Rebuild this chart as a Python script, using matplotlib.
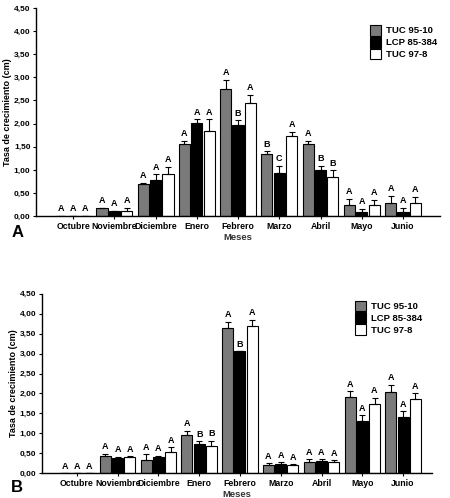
import matplotlib.pyplot as plt
import numpy as np

plt.rcParams['font.family'] = ['Liberation Sans', 'DejaVu Sans']

meses = ['Octubre', 'Noviembre', 'Diciembre', 'Enero', 'Febrero',
         'Marzo', 'Abril', 'Mayo', 'Junio']
variedades = ['TUC 95-10', 'LCP 85-384', 'TUC 97-8']

# Panel A
tuc9510_a = [0, 0.17, 0.70, 1.55, 2.74, 1.35, 1.55, 0.24, 0.29]
lcp_a = [0, 0.11, 0.79, 2.01, 1.97, 0.93, 1.00, 0.08, 0.10]
tuc978_a = [0, 0.12, 0.92, 1.84, 2.45, 1.74, 0.84, 0.24, 0.29]
err_tuc9510_a = [0, 0.01, 0.02, 0.08, 0.20, 0.05, 0.08, 0.13, 0.14]
err_lcp_a = [0, 0.01, 0.11, 0.08, 0.10, 0.16, 0.08, 0.08, 0.08]
err_tuc978_a = [0, 0.05, 0.15, 0.25, 0.17, 0.08, 0.15, 0.11, 0.13]
letras_a = [['A', 'A', 'A'], ['A', 'A', 'A'], ['A', 'A', 'A'], ['A', 'A', 'A'],
            ['A', 'B', 'A'], ['B', 'C', 'A'], ['A', 'B', 'B'], ['A', 'A', 'A'],
            ['A', 'A', 'A']]

# Panel B
tuc9510_b = [0, 0.42, 0.33, 0.96, 3.65, 0.20, 0.29, 1.90, 2.03]
lcp_b = [0, 0.37, 0.40, 0.72, 3.06, 0.22, 0.31, 1.32, 1.41]
tuc978_b = [0, 0.40, 0.53, 0.68, 3.68, 0.20, 0.27, 1.74, 1.85]
err_tuc9510_b = [0, 0.07, 0.15, 0.10, 0.15, 0.05, 0.06, 0.16, 0.19]
err_lcp_b = [0, 0.04, 0.04, 0.08, 0.0, 0.05, 0.04, 0.13, 0.15]
err_tuc978_b = [0, 0.02, 0.12, 0.13, 0.17, 0.03, 0.05, 0.15, 0.16]
letras_b = [['A', 'A', 'A'], ['A', 'A', 'A'], ['A', 'A', 'A'], ['A', 'B', 'B'],
            ['A', 'B', 'A'], ['A', 'A', 'A'], ['A', 'A', 'A'], ['A', 'A', 'A'],
            ['A', 'A', 'A']]

colores = ['#7a7a7a', 'black', 'white']
yticks = np.arange(0, 4.51, 0.5)


def panel(ax, series, errores, letras, xlim, leg_pos):
    x = np.arange(len(meses))
    w = 0.27
    off = 0.30
    for i, (vals, err) in enumerate(zip(series, errores)):
        pos = x + (i - 1) * off
        ax.bar(pos, vals, w, color=colores[i], edgecolor='black',
               linewidth=0.8, label=variedades[i], zorder=2)
        ax.errorbar(pos, vals, yerr=[np.zeros(len(vals)), err], fmt='none',
                    ecolor='black', elinewidth=0.8, capsize=2.5,
                    capthick=0.8, zorder=3)
        for j in range(len(vals)):
            ax.text(pos[j], vals[j] + err[j] + 0.06, letras[j][i],
                    ha='center', va='bottom', fontsize=6.5,
                    fontweight='bold')
    ax.set_xlim(*xlim)
    ax.set_ylim(0, 4.5)
    ax.set_yticks(yticks)
    ax.set_yticklabels([('%.2f' % v).replace('.', ',') for v in yticks],
                       fontsize=6, fontweight='bold')
    ax.set_xticks(x)
    ax.set_xticklabels(meses, fontsize=6.3, fontweight='bold')
    ax.tick_params(axis='both', length=2.5, width=0.8, pad=1.5)
    ax.spines['top'].set_visible(False)
    ax.spines['right'].set_visible(False)
    ax.spines['left'].set_linewidth(1.0)
    ax.spines['bottom'].set_linewidth(1.0)
    ax.set_ylabel('Tasa de crecimiento (cm)', fontsize=6.5, fontweight='bold',
                  labelpad=1)
    ax.set_xlabel('Meses', fontsize=6.8, fontweight='bold', labelpad=2,
                  color='#333333')
    ax.legend(loc='upper left', bbox_to_anchor=leg_pos, frameon=False,
              prop={'weight': 'bold', 'size': 6.8},
              handlelength=1.2, handleheight=1.4, handletextpad=0.5,
              labelspacing=0.1)


fig = plt.figure(figsize=(4.5, 4.98), dpi=100)
ax1 = fig.add_axes([0.08, 0.566, 0.898, 0.418])
ax2 = fig.add_axes([0.093, 0.050, 0.867, 0.360])

panel(ax1, [tuc9510_a, lcp_a, tuc978_a],
      [err_tuc9510_a, err_lcp_a, err_tuc978_a], letras_a,
      (-0.9, 8.9), (0.805, 0.96))
panel(ax2, [tuc9510_b, lcp_b, tuc978_b],
      [err_tuc9510_b, err_lcp_b, err_tuc978_b], letras_b,
      (-0.86, 8.71), (0.78, 1.01))

fig.text(0.025, 0.534, 'A', fontsize=12, fontweight='bold', va='center')
fig.text(0.025, 0.022, 'B', fontsize=12, fontweight='bold', va='center')

fig.savefig('out.png', dpi=100)
